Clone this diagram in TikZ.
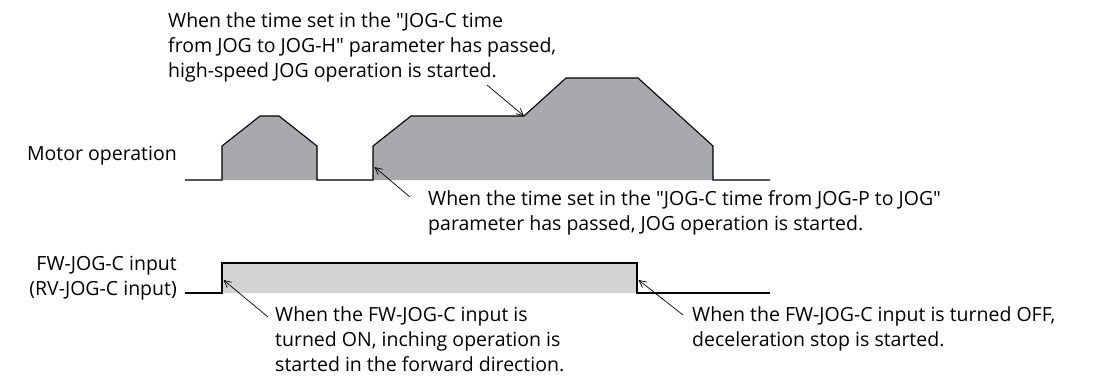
\documentclass[tikz,border=0pt]{standalone}
\usepackage{fontspec}
\setmainfont{Open Sans}[Ligatures=TeXOff]
\usetikzlibrary{arrows.meta}
\definecolor{mMotorGray}{HTML}{A7A9AC}
\definecolor{mInputGray}{HTML}{D1D3D4}

\begin{document}
\begin{tikzpicture}[x=1pt, y=-1pt,
    every node/.style={font=\fontsize{19.5}{25}\selectfont, inner sep=0pt, align=left},
    signal/.style={line width=1.1pt, line join=miter},
    pointer/.style={line width=0.7pt, -{Straight Barb[length=7pt, width=7pt]}}]
  \useasboundingbox (0,0) rectangle (1102,383);
  \draw[signal, fill=mMotorGray] (185,180) -- (222,180) -- (222,146) -- (260,116)
    -- (279,116) -- (317,146) -- (317,180) -- (373,180) -- (373,146) -- (411,116)
    -- (524,116) -- (566,78) -- (638,78) -- (713,146) -- (713,180) -- (770,180);
  \draw[signal, fill=mInputGray] (185,293) -- (222,293) -- (222,263)
    -- (637,263) -- (637,293) -- (770,293);
  \coordinate (hstart) at (524,116);
  \coordinate (jstart) at (374.5,167);
  \coordinate (onedge) at (223.5,280);
  \coordinate (offedge) at (638.5,280);
  \coordinate (htail) at (487,85);
  \coordinate (jtail) at (410,197);
  \coordinate (ontail) at (268,317);
  \coordinate (offtail) at (683,315);
  \node[anchor=base east, align=right] (motor) at (177,160) {Motor operation};
  \node[anchor=base east, align=right] (input) at (177,295)
    {FW-JOG-C input\\(RV-JOG-C input)};
  \node[anchor=base west] (hnote) at (168,77)
    {When the time set in the "JOG-C time\\from JOG to JOG-H" parameter has passed,\\high-speed JOG operation is started.};
  \node[anchor=base west] (jnote) at (428,230)
    {When the time set in the "JOG-C time from JOG-P to JOG"\\parameter has passed, JOG operation is started.};
  \node[anchor=base west] (onnote) at (275,371)
    {When the FW-JOG-C input is\\turned ON, inching operation is\\started in the forward direction.};
  \node[anchor=base west] (offnote) at (692,346)
    {When the FW-JOG-C input is turned OFF,\\deceleration stop is started.};
  \draw[pointer] (htail) -- (hstart);
  \draw[pointer] (jtail) -- (jstart);
  \draw[pointer] (ontail) -- (onedge);
  \draw[pointer] (offtail) -- (offedge);
\end{tikzpicture}
\end{document}
